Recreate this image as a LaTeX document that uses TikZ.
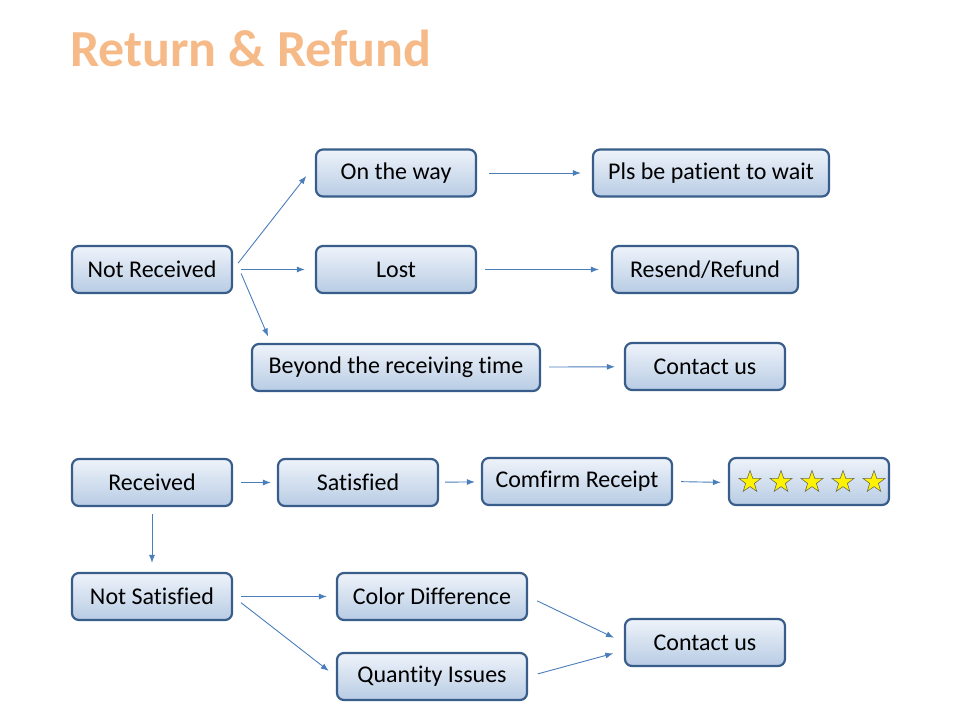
\documentclass[tikz,border=0pt]{standalone}
\usepackage{fontspec}
\setmainfont{Carlito}[Ligatures=NoCommon]
\usepackage{tikz}
\usetikzlibrary{positioning, arrows.meta, shapes.geometric}

\definecolor{boxline}{RGB}{56,93,138}
\definecolor{boxtop}{RGB}{238,243,250}
\definecolor{boxbottom}{RGB}{184,204,228}
\definecolor{linkblue}{RGB}{74,126,187}
\definecolor{peach}{RGB}{246,186,136}
\definecolor{starline}{RGB}{110,110,80}

\tikzset{
	box/.style={rectangle, rounded corners=7pt, draw=boxline, line width=2.2pt,
		top color=boxtop, bottom color=boxbottom, minimum width=160pt,
		minimum height=47pt, inner sep=0pt, font=\fontsize{24}{28}\selectfont},
	link/.style={draw=linkblue, line width=0.9pt, -{Latex[length=8pt,width=6pt]},
		shorten <=8pt, shorten >=9pt},
	starnode/.style={star, star points=5, star point ratio=2.5, minimum size=23pt,
		inner sep=0pt, fill=yellow, draw=starline, line width=0.6pt},
}

\begin{document}
\begin{tikzpicture}[x=1pt, y=-1pt]
		\useasboundingbox (0,0) rectangle (960,720);
		\node[text=peach, anchor=base west, inner sep=0pt,
			font=\fontsize{52}{60}\selectfont\bfseries] (title) at (70,66) {Return \& Refund};
		
		\node[box] (notrec) at (152,269.5) {Not Received};
		\node[box] (way) at (396,173) {On the way};
		\node[box, minimum width=236pt] (wait) at (711,173) {Pls be patient to wait};
		\node[box] (lost) at (396,269.5) {Lost};
		\node[box, minimum width=186pt] (resend) at (705,269.5) {Resend/Refund};
		\node[box, minimum width=288pt] (beyond) at (396,367.5) {Beyond the receiving time};
		\node[box] (contactA) at (705,366.5) {Contact us};
		
		\node[box] (rec) at (152,482.5) {Received};
		\node[box] (sat) at (358,482.5) {Satisfied};
		\node[box, minimum width=190pt] (confirm) at (577,481.5) {\raisebox{1pt}{Comfirm Receipt}};
		\node[box] (stars) at (809,481.5) {};
		\foreach \i/\x in {1/750, 2/781, 3/812, 4/843, 5/874}
			\node[starnode] (star\i) at (\x,482) {};
		
		\node[box] (notsat) at (152,596.5) {Not Satisfied};
		\node[box, minimum width=190pt] (color) at (432,596.5) {Color Difference};
		\node[box, minimum width=190pt] (qty) at (432,676.5) {Quantity Issues};
		\node[box] (contactB) at (705,642.5) {Contact us};
		
		\draw[link, shorten >=14pt] (notrec.east) -- ([yshift=8pt]way.west);
		\draw[link, shorten >=10pt] (notrec.east) -- (lost.west);
		\draw[link, shorten <=0pt, shorten >=7pt] ([xshift=8pt,yshift=-4pt]notrec.east) -- ([xshift=20pt]beyond.north west);
		\draw[link, shorten <=12pt, shorten >=11pt] (way) -- (wait);
		\draw[link, shorten >=12pt] (lost) -- (resend);
		\draw[link] (beyond) -- (contactA);
		
		\draw[link, shorten >=6pt] (rec) -- (sat);
		\draw[link, shorten <=6pt, shorten >=6pt] (sat) -- (confirm);
		\draw[link, shorten >=7pt] (confirm.east) -- ([yshift=-1pt]stars.west);
		\draw[link, shorten <=7pt] (rec) -- (notsat);
		
		\draw[link] (notsat) -- (color);
		\draw[link, shorten <=10pt] (notsat.east) -- (qty.west);
		\draw[link, shorten <=10pt, shorten >=11pt] (color.east) -- (contactB.west);
		\draw[link, shorten <=10pt, shorten >=11pt] (qty.east) -- ([yshift=-8pt]contactB.west);
	\end{tikzpicture}
\end{document}
